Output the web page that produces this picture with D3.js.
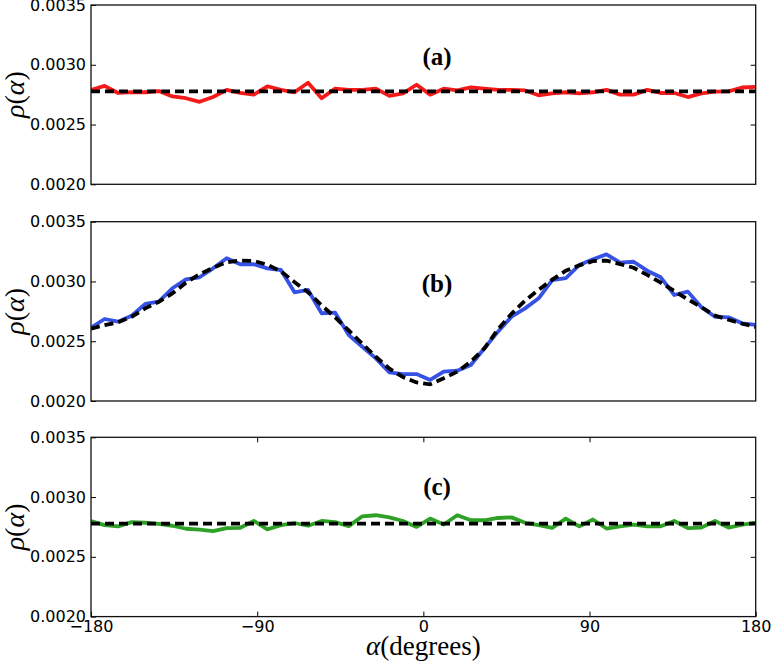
<!DOCTYPE html>
<html>
<head>
<meta charset="utf-8">
<script src="https://cdn.jsdelivr.net/npm/d3@7"></script>
<style>
  body { margin: 0; background: #fff; }
  .tick text { font-family: "DejaVu Sans", sans-serif; font-size: 16px; fill: #000; }
</style>
</head>
<body>
<svg id="chart" width="773" height="666"></svg>
<script>
/* data: rho(alpha), in units of 1e-3 */

// 50 sample angles, -180..180 degrees
var alpha = d3.range(50).map(i => -180 + i * 360 / 49)

var rhoA = [2.790, 2.823, 2.764, 2.771, 2.770, 2.780, 2.735, 2.720, 2.690, 2.730,
            2.790, 2.764, 2.750, 2.820, 2.790, 2.770, 2.850, 2.720, 2.800, 2.790,
            2.790, 2.800, 2.740, 2.760, 2.833, 2.750, 2.800, 2.785, 2.810, 2.800,
            2.790, 2.790, 2.785, 2.745, 2.760, 2.770, 2.760, 2.770, 2.790, 2.750,
            2.750, 2.790, 2.764, 2.764, 2.730, 2.760, 2.775, 2.778, 2.810, 2.815]

var rhoB = [2.613, 2.686, 2.664, 2.714, 2.812, 2.831, 2.943, 3.018, 3.035, 3.110,
            3.194, 3.144, 3.144, 3.110, 3.096, 2.909, 2.929, 2.734, 2.739, 2.552,
            2.454, 2.357, 2.240, 2.225, 2.225, 2.176, 2.245, 2.254, 2.301, 2.441,
            2.580, 2.705, 2.775, 2.859, 3.012, 3.027, 3.138, 3.185, 3.227, 3.157,
            3.165, 3.090, 3.035, 2.887, 2.915, 2.784, 2.705, 2.700, 2.650, 2.636]

// fitted curve for panel (b), read at the same angles
var fitB = [2.605, 2.635, 2.658, 2.705, 2.775, 2.830, 2.900, 2.990, 3.060, 3.115,
            3.160, 3.175, 3.172, 3.140, 3.085, 2.995, 2.910, 2.800, 2.700, 2.590,
            2.480, 2.370, 2.270, 2.200, 2.155, 2.140, 2.190, 2.245, 2.330, 2.440,
            2.600, 2.730, 2.840, 2.930, 3.015, 3.090, 3.135, 3.170, 3.175, 3.145,
            3.115, 3.055, 2.990, 2.920, 2.850, 2.785, 2.715, 2.680, 2.648, 2.620]

var rhoC = [2.800, 2.765, 2.755, 2.790, 2.785, 2.775, 2.760, 2.735, 2.728, 2.715,
            2.740, 2.743, 2.800, 2.730, 2.765, 2.783, 2.760, 2.800, 2.790, 2.757,
            2.839, 2.848, 2.830, 2.800, 2.750, 2.820, 2.770, 2.848, 2.806, 2.806,
            2.825, 2.830, 2.785, 2.765, 2.742, 2.820, 2.755, 2.812, 2.737, 2.755,
            2.770, 2.755, 2.755, 2.800, 2.740, 2.745, 2.800, 2.745, 2.770, 2.785]

// uniform density 1/360, drawn flat in (a) and (c)
var uniform = [2.7778, 2.7778]
var uniformAlpha = [-180, 180]

var panelNames = ["(a)", "(b)", "(c)"]
var xTicks = [-180, -90, 0, 90, 180]
var yTicks = [0.0020, 0.0025, 0.0030, 0.0035]

/* layout */
var svg = d3.select("#chart")
var left = 91, right = 755.7
var panelTops = [5, 221.7, 437.3]
var panelH = 179.3
var labelPos = [[7.4, 3.0], [7.4, 2.912], [7.4, 3.016]] // where the (a)/(b)/(c) text sits, data coords
var colors = ["#f41a1a", "#3652e4", "#2ea126"]

var x = d3.scaleLinear().domain([-180, 180]).range([left, right])

var panels = [
  { data: rhoA, fitX: uniformAlpha, fit: uniform },
  { data: rhoB, fitX: alpha, fit: fitB },
  { data: rhoC, fitX: uniformAlpha, fit: uniform }
]

panels.forEach((p, k) => {
  let top = panelTops[k]
  let y = d3.scaleLinear().domain([0.0020, 0.0035]).range([top + panelH, top])
  let g = svg.append("g")

  g.append("clipPath").attr("id", "clip" + k)
    .append("rect").attr("x", left).attr("y", top)
    .attr("width", right - left).attr("height", panelH)

  let line = d3.line().x(d => x(d[0])).y(d => y(d[1] / 1000))

  // measured curve
  g.append("path")
    .attr("clip-path", `url(#clip${k})`)
    .attr("d", line(alpha.map((a, i) => [a, p.data[i]])))
    .attr("fill", "none").attr("stroke", colors[k])
    .attr("stroke-width", 3.8).attr("stroke-linejoin", "round")

  // fitted / uniform curve, dashed on top
  g.append("path")
    .attr("clip-path", `url(#clip${k})`)
    .attr("d", line(p.fitX.map((a, i) => [a, p.fit[i]])))
    .attr("fill", "none").attr("stroke", "#000")
    .attr("stroke-width", 3.8).attr("stroke-dasharray", "9,5")

  // y axes: labels on the left, inward ticks both sides
  let yl = g.append("g").attr("transform", `translate(${left},0)`)
    .call(d3.axisLeft(y).tickValues(yTicks).tickFormat(d3.format(".4f")).tickSize(-5).tickPadding(5))
  yl.select(".domain").remove()
  let yr = g.append("g").attr("transform", `translate(${right},0)`)
    .call(d3.axisRight(y).tickValues(yTicks.slice(1, 3)).tickFormat("").tickSize(-5))
  yr.select(".domain").remove()

  // x ticks only on the bottom panel
  if (k == 2) {
    let xb = g.append("g").attr("transform", `translate(0,${top + panelH})`)
      .call(d3.axisBottom(x).tickValues(xTicks).tickSize(-5).tickPadding(4)
        .tickFormat(d => d < 0 ? "\u2212" + Math.abs(d) : d))
    xb.select(".domain").remove()
    let xt = g.append("g").attr("transform", `translate(0,${top})`)
      .call(d3.axisTop(x).tickValues(xTicks.slice(1, 4)).tickSize(-5).tickFormat(""))
    xt.select(".domain").remove()
  }

  g.selectAll(".tick line").attr("stroke", "#000")

  // frame
  g.append("rect").attr("x", left).attr("y", top)
    .attr("width", right - left).attr("height", panelH)
    .attr("fill", "none").attr("stroke", "#111").attr("stroke-width", 1.3)

  // panel tag
  g.append("text")
    .attr("x", x(labelPos[k][0])).attr("y", y(labelPos[k][1] / 1000))
    .attr("text-anchor", "middle")
    .style("font-family", "'Liberation Serif', serif").style("font-weight", "bold")
    .style("font-size", "25px")
    .text(panelNames[k])

  // y label rho(alpha)
  let yt = g.append("text")
    .attr("transform", `translate(24,${top + panelH / 2}) rotate(-90)`)
    .attr("text-anchor", "middle")
    .style("font-family", "'Liberation Serif', serif").style("font-size", "28px")
  yt.append("tspan").style("font-style", "italic").text("\u03c1")
  yt.append("tspan").text("(")
  yt.append("tspan").style("font-style", "italic").text("\u03b1")
  yt.append("tspan").text(")")
})

// x label
var xl = svg.append("text")
  .attr("x", x(0)).attr("y", 655)
  .attr("text-anchor", "middle")
  .style("font-family", "'Liberation Serif', serif").style("font-size", "27px")
xl.append("tspan").style("font-style", "italic").text("\u03b1")
xl.append("tspan").text("(degrees)")
</script>
</body>
</html>
